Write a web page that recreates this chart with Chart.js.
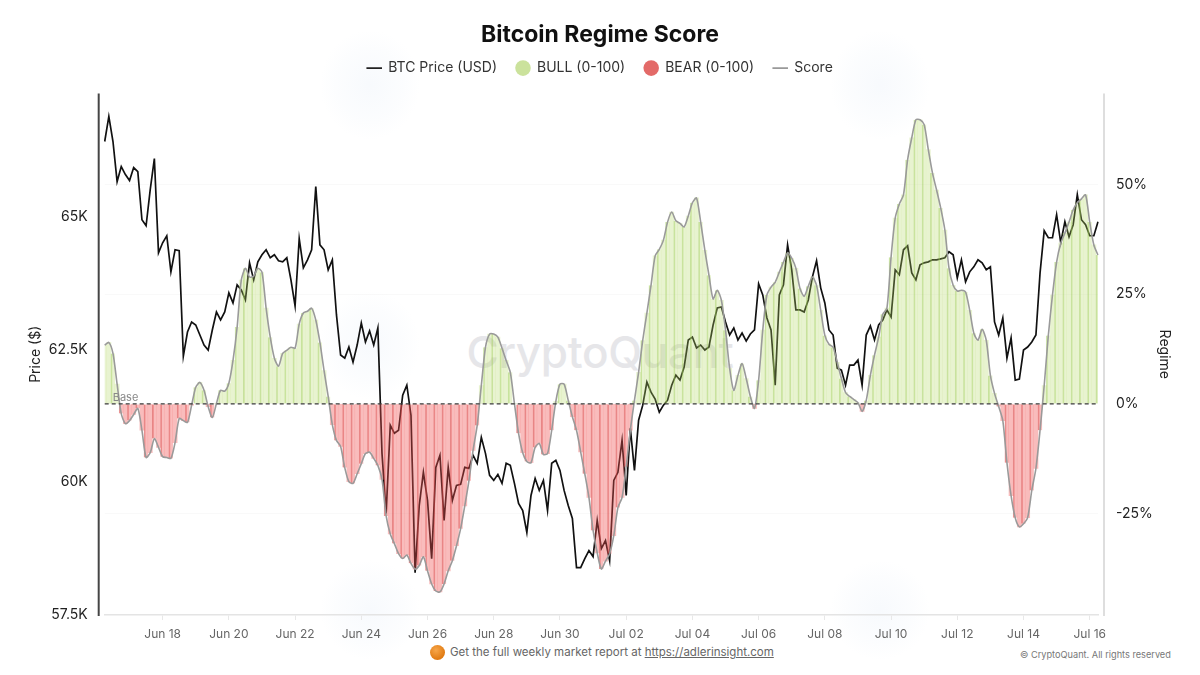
<!DOCTYPE html>
<html>
<head>
<meta charset="utf-8">
<title>Bitcoin Regime Score</title>
<script src="https://cdn.jsdelivr.net/npm/chart.js@4"></script>
<style>
html,body{margin:0;padding:0;background:#fff;width:1200px;height:675px;overflow:hidden;font-family:Inter,sans-serif}
#wrap{position:relative;width:1200px;height:675px}
canvas{position:absolute;left:0;top:0}
.blob{position:absolute;border-radius:50%;background:radial-gradient(closest-side,rgba(236,242,250,.4),rgba(240,245,251,.22) 65%,rgba(255,255,255,0))}
#wm{position:absolute;left:0;width:1200px;top:325px;text-align:center;font-size:44px;font-weight:500;color:#e6e6e9;letter-spacing:-.3px}
#foot{position:absolute;left:450px;top:645px;font-size:11.5px;color:#666;white-space:nowrap}
#foot u{color:#666}
#ball{position:absolute;left:430px;top:645px;width:15px;height:15px;border-radius:50%;background:radial-gradient(circle at 40% 35%,#f7a64a,#e07a12 70%)}
#copy{position:absolute;left:1020px;top:649px;font-size:9.2px;color:#777;white-space:nowrap}
</style>
</head>
<body>
<div id="wrap">
<div class="blob" style="left:320px;top:30px;width:100px;height:110px"></div>
<div class="blob" style="left:830px;top:30px;width:100px;height:110px"></div>
<div class="blob" style="left:320px;top:290px;width:100px;height:110px"></div>
<div class="blob" style="left:320px;top:560px;width:100px;height:100px"></div>
<div class="blob" style="left:830px;top:560px;width:100px;height:100px"></div>
<div id="wm">CryptoQuant</div>
<div id="ball"></div>
<div id="foot">Get the full weekly market report at <u>https://adlerinsight.com</u></div>
<div id="copy">© CryptoQuant. All rights reserved</div>
<canvas id="c" width="1200" height="675"></canvas>
</div>
<script>
const priceTicks = [57500, 60000, 62500, 65000];
const priceTickLabels = ['57.5K', '60K', '62.5K', '65K'];
const regimeTicks = [-25, 0, 25, 50];
const regimeTickLabels = ['-25%', '0%', '25%', '50%'];

const btcPrice = [
66416,66888,66416,65661,65944,65793,65680,65925,65850,64943,
64830,65510,66095,64320,64509,64641,63962,64377,64358,62376,
62829,63018,62961,62772,62583,62489,62867,63206,63055,63206,
63565,63376,63716,63622,63433,64131,63811,64150,64283,64377,
64226,64283,64169,64150,64226,63811,63320,64585,64037,64188,
64377,65566,64471,64377,64000,64188,63150,62395,62338,62546,
62262,62583,62999,62640,62848,62583,62904,60544,59412,61073,
60922,60979,61639,61828,61262,58298,59563,60186,59657,58562,
60280,60507,59280,60280,59657,59940,59960,60280,60261,60507,
60356,60846,60544,60129,60035,60148,59978,60356,60318,59978,
59600,59468,59053,59751,60072,59846,60035,59468,60356,60412,
60223,59846,59563,59317,58392,58392,58562,58713,58600,59280,
58751,58902,58524,60035,60186,60790,59751,61016,60223,61167,
61451,61885,61696,61564,61318,61451,61545,61828,62017,61923,
62168,62678,62734,62527,62583,62489,62546,62961,63282,63301,
63018,62772,62904,62678,62810,62659,62791,62867,63735,63527,
63093,62867,61828,63527,63716,64471,64000,63244,63244,63206,
63433,63867,64169,63660,63376,62867,62772,62149,62111,61828,
62206,62206,62300,61828,62772,62942,62678,62961,63055,63244,
63112,64000,63905,64377,64452,63943,63811,64094,64131,64150,
64188,64188,64207,64226,64339,64283,63848,64188,63773,63962,
64056,64188,64131,64000,64056,63018,62772,63093,62338,62716,
61923,61942,62489,62546,62640,62772,63943,64736,64604,64604,
65038,64509,64906,64622,64849,65415,64943,64849,64641,64641,
64906
];

const regimeScore = [
13.4,14.0,11.5,4.5,-2.2,-4.5,-3.8,-2.4,-1.0,-6.0,
-12.2,-11.1,-7.9,-9.9,-12.0,-12.2,-12.4,-8.8,-3.3,-3.8,
-4.2,-0.3,3.8,4.9,3.1,-0.6,-3.1,0.1,3.1,2.9,
4.7,9.9,17.5,28.2,30.9,28.9,29.1,30.9,30.0,21.8,
15.2,10.4,8.6,11.5,12.2,12.9,12.7,18.2,20.7,21.1,
21.8,19.1,14.0,7.6,1.7,-4.7,-8.3,-9.7,-14.5,-17.7,
-18.1,-15.9,-13.6,-11.3,-11.0,-12.4,-14.0,-17.2,-25.5,-29.6,
-31.8,-34.1,-35.2,-34.4,-36.3,-37.6,-36.8,-34.8,-38.0,-41.0,
-42.6,-42.8,-41.0,-38.0,-35.7,-32.3,-28.4,-23.2,-17.5,-10.6,
-4.9,4.2,12.9,15.9,15.9,15.2,12.7,9.9,7.2,0.1,
-6.7,-11.1,-13.1,-13.4,-9.9,-9.0,-11.5,-11.3,-6.0,0.6,
4.5,4.5,0.8,-2.9,-6.0,-10.9,-15.9,-21.3,-28.8,-33.9,
-37.6,-35.8,-34.1,-30.0,-23.6,-21.3,-14.3,-6.0,0.8,7.2,
14.5,20.7,27.0,33.7,35.2,37.3,41.4,43.7,41.7,41.1,
40.3,42.8,45.8,46.9,41.4,35.0,29.3,23.9,25.9,23.6,
16.8,8.1,3.1,6.5,9.2,5.8,1.7,-1.0,5.4,16.8,
24.8,26.6,27.7,30.0,32.3,34.4,33.2,30.9,26.3,24.5,
26.8,28.9,27.0,21.3,15.6,13.6,12.9,9.5,5.8,2.6,
1.7,1.0,0.3,-1.7,0.8,6.5,11.1,15.2,20.4,21.8,
33.4,42.3,45.5,47.6,55.6,60.6,64.7,64.7,63.6,57.9,
52.6,48.7,44.6,39.6,30.9,27.0,25.7,25.9,25.5,21.3,
16.1,14.5,17.0,14.5,6.5,2.4,-0.6,-3.8,-13.4,-20.9,
-25.9,-28.0,-27.3,-25.9,-19.7,-14.7,-6.0,4.2,15.6,24.8,
32.3,36.6,38.9,41.4,44.2,45.8,46.7,47.6,41.4,36.2,
33.9
];

const monthNames = ['Jun', 'Jul'];
const categories = btcPrice.map((_, i) => {
  const d = new Date(Date.UTC(2025, 5, 16, 6 + 3 * i));
  return monthNames[d.getUTCMonth() - 5] + ' ' + String(d.getUTCDate()).padStart(2, '0');
});
const bullValues = regimeScore.map(v => v > 0 ? v : null);
const bearValues = regimeScore.map(v => v < 0 ? v : null);
const baseValues = regimeScore.map(() => 0);

const stripe = () => ctx => (ctx.dataIndex % 2 === 0)
  ? { left: 1, right: 0, top: 0, bottom: 0 } : 0;

const chrome = {
  id: 'chrome',
  start(chart) {
    const lg = chart.legend, fit = lg && lg.fit;
    if (fit) lg.fit = function () { fit.call(this); this.height += 8.5; };
  },
  beforeDatasetsDraw(chart) {
    const a = chart.chartArea, c = chart.ctx;
    c.save();
    c.lineWidth = 2;
    c.strokeStyle = '#454545';
    c.beginPath(); c.moveTo(a.left - 6, a.top); c.lineTo(a.left - 6, a.bottom + 1); c.stroke();
    c.strokeStyle = '#dedede';
    c.beginPath(); c.moveTo(a.right + 6, a.top); c.lineTo(a.right + 6, a.bottom + 1); c.stroke();
    c.restore();
  },
  afterDatasetsDraw(chart) {
    const a = chart.chartArea, c = chart.ctx;
    c.save();
    c.font = '11px Inter';
    c.fillStyle = '#888';
    c.textAlign = 'left';
    c.textBaseline = 'bottom';
    c.fillText('Base', a.left + 8, chart.scales.y1.getPixelForValue(0) - 0.5);
    c.restore();
  }
};

new Chart(document.getElementById('c'), {
  data: {
    labels: categories,
    datasets: [
      { type: 'line', label: 'BTC Price (USD)', data: btcPrice, yAxisID: 'y', order: 4,
        borderColor: '#111', borderWidth: 1.7, pointRadius: 0, tension: 0 },
      { type: 'bar', label: 'BULL (0-100)', data: bullValues, yAxisID: 'y1', order: 3, grouped: false,
        backgroundColor: 'rgba(178,214,100,0.3)', borderColor: 'rgba(160,205,90,0.5)',
        borderWidth: stripe(), barPercentage: 1, categoryPercentage: 1 },
      { type: 'bar', label: 'BEAR (0-100)', data: bearValues, yAxisID: 'y1', order: 3, grouped: false,
        backgroundColor: 'rgba(238,80,80,0.38)', borderColor: 'rgba(215,70,70,0.55)',
        borderWidth: stripe(), barPercentage: 1, categoryPercentage: 1 },
      { type: 'line', label: 'Score', data: regimeScore, yAxisID: 'y1', order: 2,
        borderColor: '#9a9a9a', borderWidth: 1.6, pointRadius: 0, tension: 0.25 },
      { type: 'line', label: 'Base', data: baseValues, yAxisID: 'y1', order: 1,
        borderColor: '#3a3a3a', borderWidth: 1.3, borderDash: [4, 3], pointRadius: 0 }
    ]
  },
  options: {
    responsive: false,
    animation: false,
    devicePixelRatio: 1,
    layout: { padding: 0 },
    plugins: {
      tooltip: { enabled: false },
      title: {
        display: true, text: 'Bitcoin Regime Score', color: '#111',
        font: { family: 'Inter', size: 23, weight: '700' },
        padding: { top: 21, bottom: -6.5 }
      },
      legend: {
        position: 'top',
        labels: {
          usePointStyle: true, boxHeight: 11, padding: 19, color: '#333',
          font: { family: 'Inter', size: 14 },
          generateLabels: () => [
            { text: 'BTC Price (USD)', pointStyle: 'line', strokeStyle: '#222', fillStyle: '#222', lineWidth: 1.6, fontColor: '#333' },
            { text: 'BULL (0-100)', pointStyle: 'circle', strokeStyle: '#cbe29c', fillStyle: '#cbe29c', lineWidth: 0, fontColor: '#333' },
            { text: 'BEAR (0-100)', pointStyle: 'circle', strokeStyle: '#e36a68', fillStyle: '#e36a68', lineWidth: 0, fontColor: '#333' },
            { text: 'Score', pointStyle: 'line', strokeStyle: '#999', fillStyle: '#999', lineWidth: 1.6, fontColor: '#333' }
          ]
        }
      }
    },
    scales: {
      x: {
        type: 'category', offset: false,
        afterFit: s => { s.height = 60; },
        afterBuildTicks: s => { s.ticks = s.ticks.filter(t => t.value % 16 === 14); },
        grid: { offset: false, drawOnChartArea: false, drawTicks: true, tickLength: 5, color: '#e8e8e8' },
        border: { display: true, color: '#e4e4e4', width: 1.5 },
        ticks: {
          autoSkip: false, maxRotation: 0, padding: 7, color: '#666',
          font: { family: 'Inter', size: 12 },
          callback(v) { return this.getLabelForValue(v); }
        }
      },
      y: {
        position: 'left', min: 57500, max: 67318,
        afterFit: s => { s.width = 104.7; },
        afterBuildTicks: s => { s.ticks = priceTicks.map(value => ({ value })); },
        grid: { display: false, drawTicks: false },
        border: { display: false },
        title: { display: true, text: 'Price ($)', color: '#222', font: { family: 'Inter', size: 14 }, padding: { top: 27, bottom: 0 } },
        ticks: {
          padding: 17, color: '#222', font: { family: 'Inter', size: 14 },
          callback: v => priceTickLabels[priceTicks.indexOf(v)]
        }
      },
      y1: {
        position: 'right', min: -48.06, max: 70.66,
        afterFit: s => { s.width = 102; },
        afterBuildTicks: s => { s.ticks = regimeTicks.map(value => ({ value })); },
        grid: { color: 'rgba(0,0,0,0.025)', drawTicks: false },
        border: { display: false },
        title: { display: true, text: 'Regime', color: '#222', font: { family: 'Inter', size: 14 }, padding: { top: 27, bottom: 0 } },
        ticks: {
          padding: 18, color: '#222', font: { family: 'Inter', size: 14 },
          callback: v => regimeTickLabels[regimeTicks.indexOf(v)]
        }
      }
    }
  },
  plugins: [chrome]
});
</script>
</body>
</html>
